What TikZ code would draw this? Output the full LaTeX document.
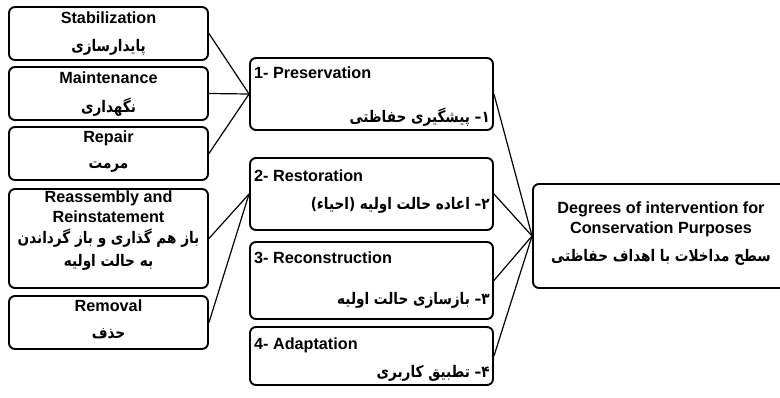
\documentclass[tikz,border=0pt]{standalone}
\usepackage{fontspec}
\setmainfont{Liberation Sans}
\newfontfamily\fafont[Script=Arabic, FakeStretch=0.85]{DejaVu Sans}
\TeXXeTstate=1
\tikzset{
  box/.style={draw, line width=1.9pt, rounded corners=6pt, inner sep=0pt, fill=white},
  en/.style={font=\fontsize{16.2}{18}\selectfont\bfseries, inner sep=0pt},
  fa/.style={font=\fontsize{16}{18}\fafont\bfseries, inner sep=0pt},
  link/.style={line width=1.2pt}
}
\begin{document}
\begin{tikzpicture}[x=1pt,y=-1pt]
\useasboundingbox (0,0) rectangle (780,397);
% left column
\node[box, minimum width=199pt, minimum height=53pt] (stab) at (108.5,33.5) {};
\node[box, minimum width=199pt, minimum height=53pt] (maint) at (108.5,93.5) {};
\node[box, minimum width=199pt, minimum height=53pt] (rep) at (108.5,153.5) {};
\node[box, minimum width=199pt, minimum height=99pt] (reas) at (108.5,238.5) {};
\node[box, minimum width=199pt, minimum height=53pt] (remv) at (108.5,322.5) {};
% middle column
\node[box, minimum width=243pt, minimum height=72pt] (pres) at (371.5,94) {};
\node[box, minimum width=243pt, minimum height=72pt] (rest) at (371.5,194) {};
\node[box, minimum width=243pt, minimum height=77pt] (recon) at (371.5,280.5) {};
\node[box, minimum width=243pt, minimum height=58pt] (adapt) at (371.5,356) {};
% right box
\node[box, minimum width=280pt, minimum height=104pt] (deg) at (673,236) {};
% connectors
\draw[link] (stab.east) -- (pres.west);
\draw[link] (maint.east) -- (pres.west);
\draw[link] (rep.east) -- (pres.west);
\draw[link] (reas.east) -- (rest.west);
\draw[link] (remv.east) -- (rest.west);
\draw[link] (pres.east) -- (deg.west);
\draw[link] (rest.east) -- (deg.west);
\draw[link] (recon.east) -- (deg.west);
\draw[link] (adapt.east) -- (deg.west);
% left texts
\node[en] (stabE) at (108.5,18) {Stabilization};
\node[fa] (stabF) at (108.5,47) {\beginR پایدارسازی\endR};
\node[en] (maintE) at (108.5,78) {Maintenance};
\node[fa] (maintF) at (108.5,107) {\beginR نگهداری\endR};
\node[en] (repE) at (108.5,138) {Repair};
\node[fa] (repF) at (108.5,167) {\beginR مرمت\endR};
\node[en] (reasE1) at (108.5,198) {Reassembly and};
\node[en] (reasE2) at (108.5,217) {Reinstatement};
\node[fa] (reasF1) at (108.5,238) {\beginR باز هم گذاری و باز گرداندن\endR};
\node[fa] (reasF2) at (108.5,262) {\beginR به حالت اولیه\endR};
\node[en] (remvE) at (108.5,306) {Removal};
\node[fa] (remvF) at (108.5,334) {\beginR حذف\endR};
% middle texts
\node[en, anchor=west] (presE) at (254,73) {1- Preservation};
\node[fa, anchor=east] (presF) at (490,117) {\beginR ۱– پیشگیری حفاظتی\endR};
\node[en, anchor=west] (restE) at (254,176) {2- Restoration};
\node[fa, anchor=east] (restF) at (490,205) {\beginR ۲– اعاده حالت اولیه (احیاء)\endR};
\node[en, anchor=west] (reconE) at (254,258) {3- Reconstruction};
\node[fa, anchor=east] (reconF) at (490,300) {\beginR ۳– بازسازی حالت اولیه\endR};
\node[en, anchor=west] (adaptE) at (254,345) {4- Adaptation};
\node[fa, anchor=east] (adaptF) at (490,373) {\beginR ۴– تطبیق کاربری\endR};
% right texts
\node[en] (degE1) at (661,209) {Degrees of intervention for};
\node[en] (degE2) at (661,229) {Conservation Purposes};
\node[fa] (degF) at (661,257) {\beginR سطح مداخلات با اهداف حفاظتی\endR};
\end{tikzpicture}
\end{document}
